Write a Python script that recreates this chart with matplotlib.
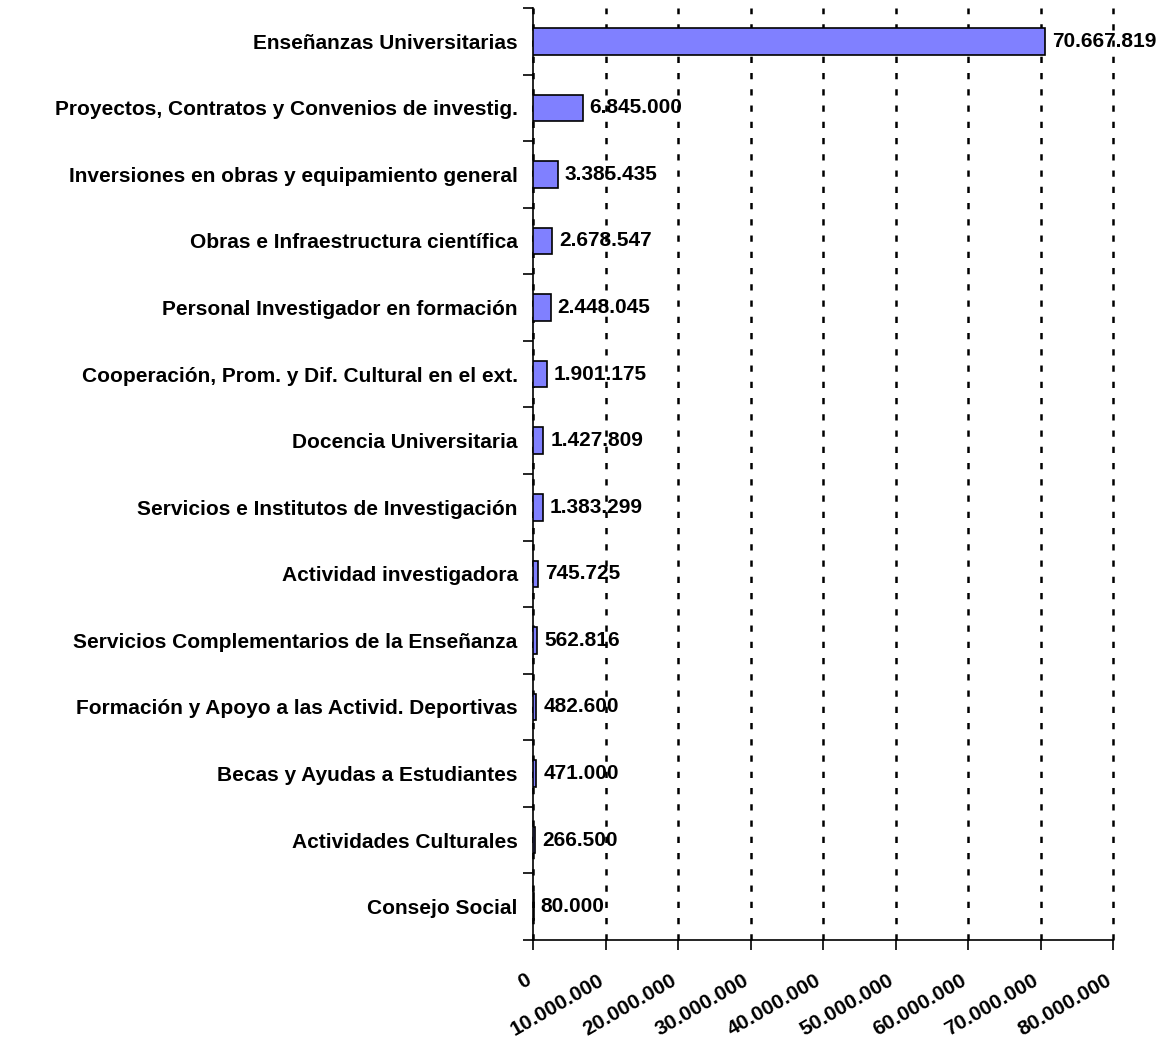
import matplotlib.pyplot as plt
import matplotlib.transforms as mtransforms
import numpy as np

# Programas de gasto (de arriba abajo en el gráfico)
programas = [
    "Enseñanzas Universitarias",
    "Proyectos, Contratos y Convenios de investig.",
    "Inversiones en obras y equipamiento general",
    "Obras e Infraestructura científica",
    "Personal Investigador en formación",
    "Cooperación, Prom. y Dif. Cultural en el ext.",
    "Docencia Universitaria",
    "Servicios e Institutos de Investigación",
    "Actividad investigadora",
    "Servicios Complementarios de la Enseñanza",
    "Formación y Apoyo a las Activid. Deportivas",
    "Becas y Ayudas a Estudiantes",
    "Actividades Culturales",
    "Consejo Social",
]
importes = [70667819, 6845000, 3385435, 2678547, 2448045, 1901175, 1427809,
            1383299, 745725, 562816, 482600, 471000, 266500, 80000]
ticks_x = [0, 10000000, 20000000, 30000000, 40000000, 50000000,
           60000000, 70000000, 80000000]


def miles(v):
    # formato español con punto como separador de miles
    return f"{v:,.0f}".replace(",", ".")


plt.rcParams['font.family'] = ['Liberation Sans', 'DejaVu Sans']
plt.rcParams['font.weight'] = 'bold'

fig = plt.figure(figsize=(11.66, 10.4), dpi=100)
ax = fig.add_axes([533 / 1166, 1 - 940 / 1040, 580 / 1166, 932 / 1040])

n = len(programas)
y = np.arange(n)[::-1]
ax.barh(y, importes, height=0.4, color='#8080ff', edgecolor='black', linewidth=1.2, zorder=3)

for yy, v in zip(y, importes):
    ax.annotate(miles(v), (v, yy), xytext=(5, 0), textcoords='offset points',
                ha='left', va='center', fontsize=15, fontweight='bold', zorder=4)

ax.set_xlim(0, 80000000)
ax.set_ylim(-0.5, n - 0.5)

ax.set_yticks(y)
ax.set_yticklabels(programas, fontsize=15, fontweight='bold')
ax.set_yticks(np.arange(-0.5, n, 1), minor=True)
ax.tick_params(axis='y', which='major', length=0, pad=11)
ax.tick_params(axis='y', which='minor', length=7, width=1.2, direction='out')

ax.set_xticks(ticks_x)
ax.set_xticklabels([miles(t) for t in ticks_x], rotation=30, ha='right',
                   va='top', rotation_mode='anchor', fontsize=15, fontweight='bold')
ax.tick_params(axis='x', length=7, width=1.2, direction='out', pad=15)
shift = mtransforms.ScaledTranslation(-8 / 100, 0, fig.dpi_scale_trans)
for lab in ax.get_xticklabels():
    lab.set_transform(lab.get_transform() + shift)

ax.grid(axis='x', color='black', linestyle=(0, (2.5, 4)), linewidth=1.8, zorder=1)
ax.grid(axis='y', visible=False)
for gl in ax.get_xgridlines():
    gl.set_clip_on(False)

for s in ['top', 'right']:
    ax.spines[s].set_visible(False)
for s in ['left', 'bottom']:
    ax.spines[s].set_linewidth(1.2)

plt.savefig('out.png', dpi=100)
